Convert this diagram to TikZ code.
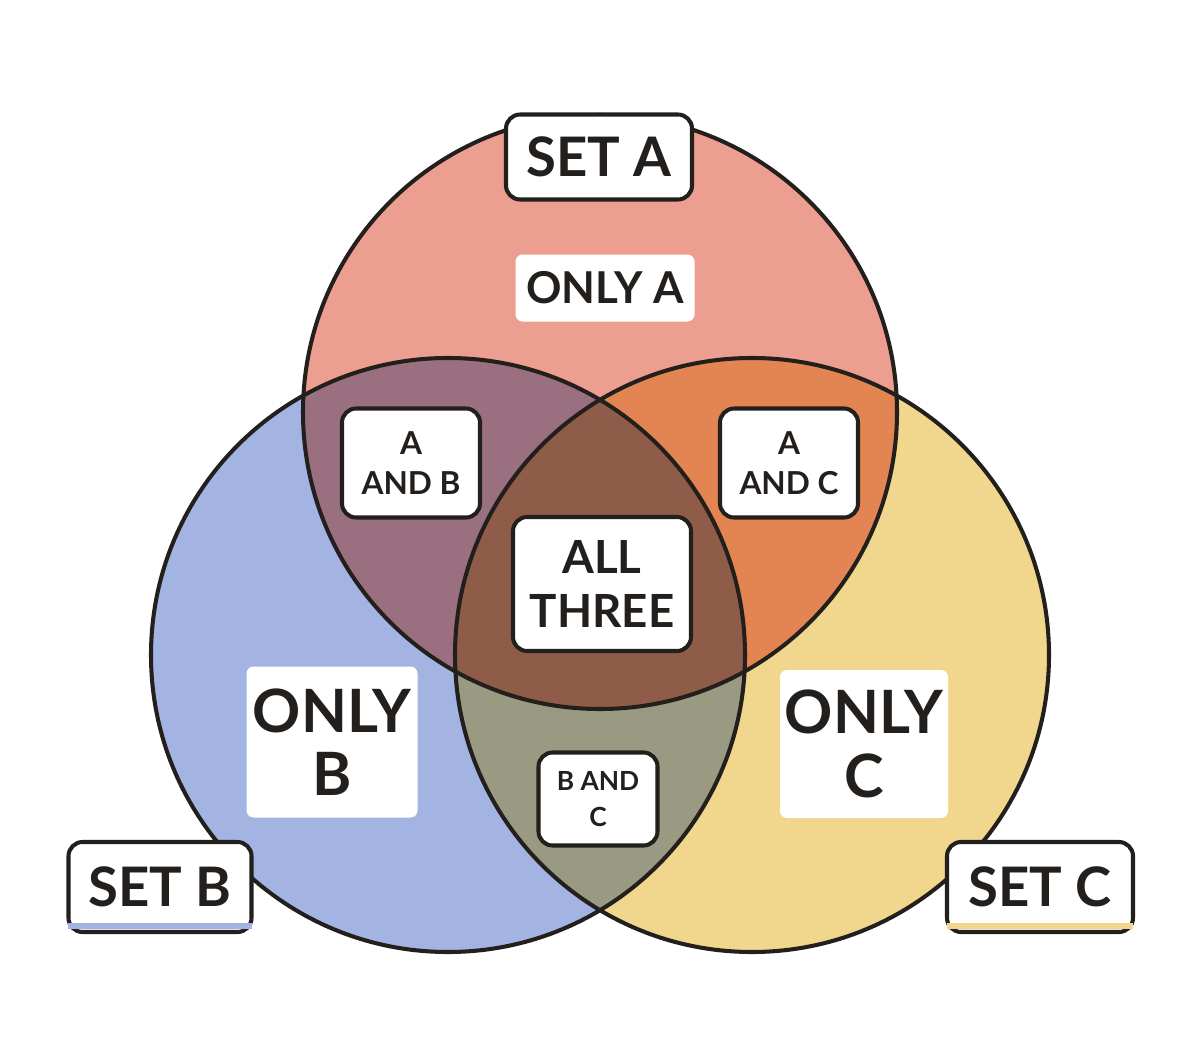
\documentclass[tikz,border=0pt]{standalone}
\usepackage{fontspec}
\setmainfont{Lato}
\usetikzlibrary{positioning}
\definecolor{setA}{HTML}{EC9E90}
\definecolor{setB}{HTML}{A3B4E2}
\definecolor{setC}{HTML}{F1D68E}
\definecolor{setAB}{HTML}{9A7080}
\definecolor{setAC}{HTML}{E38552}
\definecolor{setBC}{HTML}{9A9A82}
\definecolor{setABC}{HTML}{8E5C48}
\definecolor{ink}{HTML}{231F1C}
\tikzset{
  ring/.style={draw=ink, line width=2.3pt},
  tag/.style={draw=ink, line width=2.3pt, fill=white, rounded corners=8pt, align=center, font=\bfseries, text=ink, inner sep=0pt},
  plain/.style={fill=white, rounded corners=4pt, align=center, font=\bfseries, text=ink, inner sep=0pt},
  box/.style 2 args={minimum width=#1*0.02cm, minimum height=#2*0.02cm}
}
\begin{document}
\begin{tikzpicture}[x=0.02cm, y=-0.02cm]
  \useasboundingbox (0,0) rectangle (1200,1048);
  % circle fills
  \fill[setA] (600,412) circle (297);
  \fill[setB] (448,655) circle (297);
  \fill[setC] (752,655) circle (297);
  \begin{scope}
    \clip (600,412) circle (297);
    \fill[setAB] (448,655) circle (297);
    \fill[setAC] (752,655) circle (297);
    \clip (448,655) circle (297);
    \fill[setABC] (752,655) circle (297);
  \end{scope}
  \begin{scope}
    \clip (448,655) circle (297);
    \clip (752,655) circle (297);
    \fill[setBC] (0,0) rectangle (1200,1048);
    \fill[setABC] (600,412) circle (297);
  \end{scope}
  % outlines
  \draw[ring] (600,412) circle (297);
  \draw[ring] (448,655) circle (297);
  \draw[ring] (752,655) circle (297);
  % region labels
  \node[plain, box={179}{67}, font=\bfseries\fontsize{25}{28}\selectfont] (onlyA) at (605,288) {ONLY A};
  \node[tag, box={138}{109}, font=\bfseries\fontsize{18}{23}\selectfont] (ab) at (411,463) {A\\AND B};
  \node[tag, box={138}{109}, font=\bfseries\fontsize{18}{23}\selectfont] (ac) at (789,463) {A\\AND C};
  \node[tag, box={178}{134}, font=\bfseries\fontsize{26}{31}\selectfont] (abc) at (602,584) {ALL\\THREE};
  \node[plain, box={171}{151}, font=\bfseries\fontsize{34}{36}\selectfont] (onlyB) at (332,742) {ONLY\\B};
  \node[plain, box={168}{148}, font=\bfseries\fontsize{34}{36}\selectfont] (onlyC) at (864,744) {ONLY\\C};
  \node[tag, box={119}{93}, font=\bfseries\fontsize{15}{20}\selectfont] (bc) at (598,799) {B AND\\C};
  % set labels
  \node[tag, box={186}{85}, font=\bfseries\fontsize{31}{34}\selectfont] (setA) at (599,157) {SET A};
  \node[tag, box={183}{90}, font=\bfseries\fontsize{31}{34}\selectfont] (setB) at (160,887) {SET B};
  \node[tag, box={186}{90}, font=\bfseries\fontsize{31}{34}\selectfont] (setC) at (1040,887) {SET C};
  \fill[setB] ([xshift=1pt,yshift=3pt]setB.south west) rectangle ([xshift=-1pt,yshift=6pt]setB.south east);
  \fill[setC] ([xshift=1pt,yshift=3pt]setC.south west) rectangle ([xshift=-1pt,yshift=6pt]setC.south east);
\end{tikzpicture}
\end{document}
